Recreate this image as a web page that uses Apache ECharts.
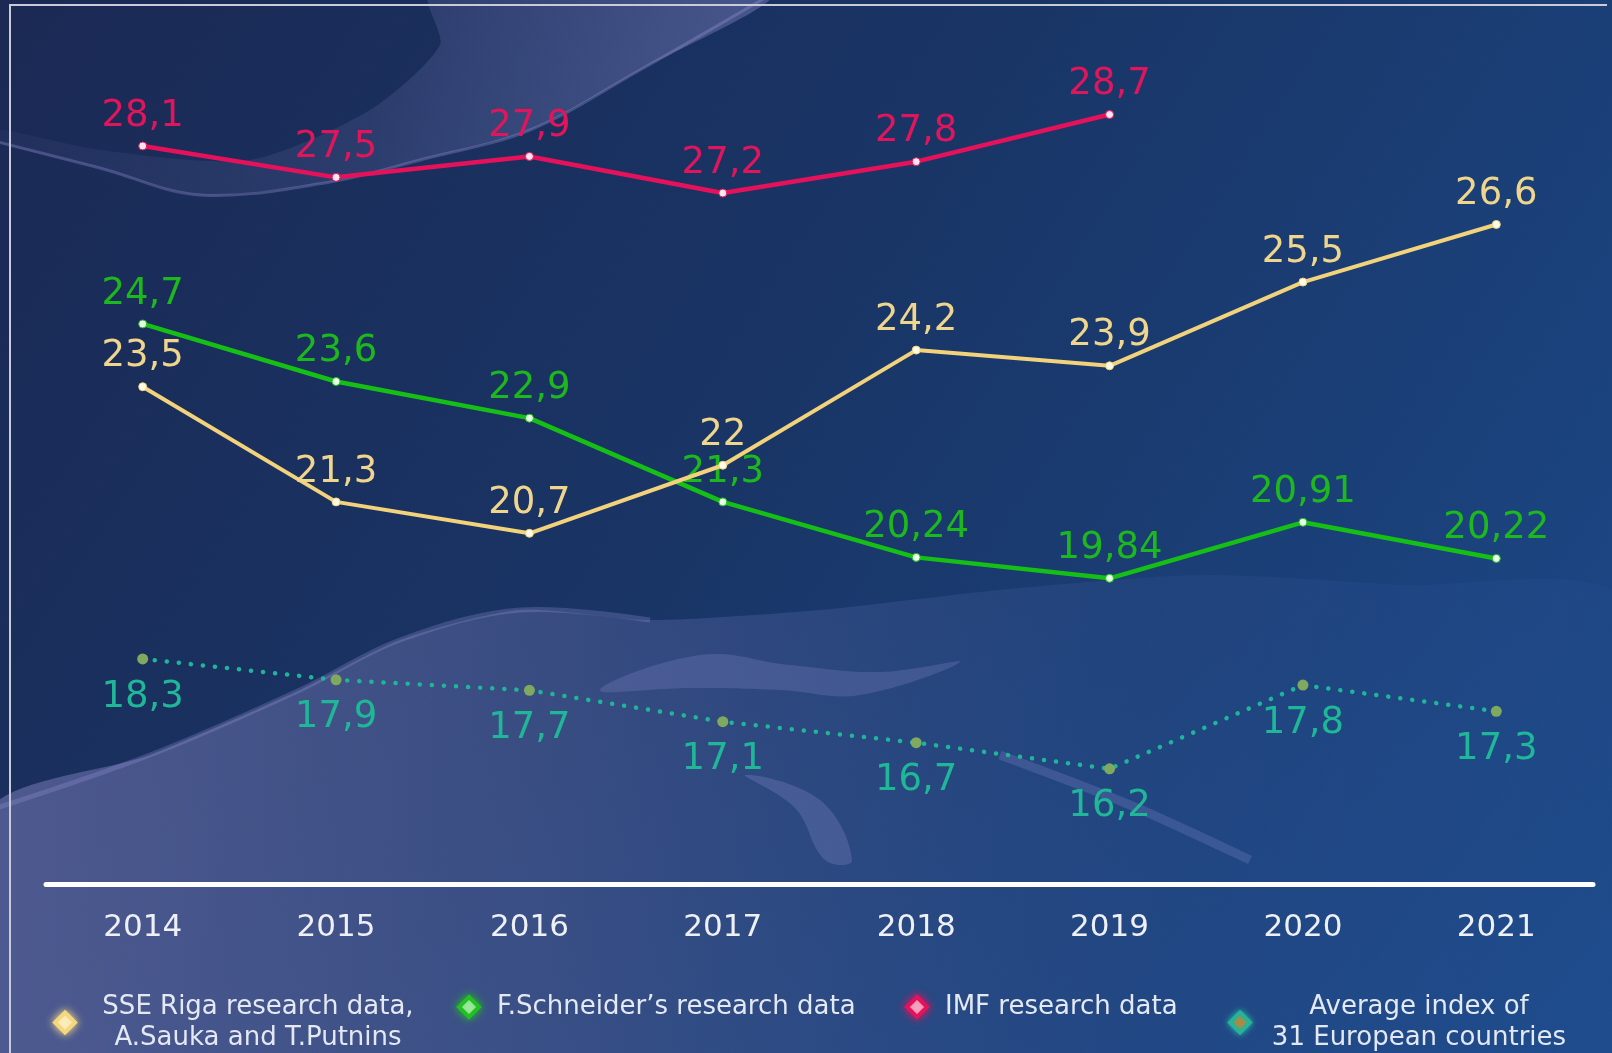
<!DOCTYPE html>
<html><head><meta charset="utf-8">
<script src="https://cdn.jsdelivr.net/npm/echarts@6/dist/echarts.min.js"></script>
<style>html,body{margin:0;padding:0;background:#1b3262;overflow:hidden}#c{width:1612px;height:1053px}</style>
</head><body><div id="c"></div><script>
const categories = ['2014', '2015', '2016', '2017', '2018', '2019', '2020', '2021'];
const sseValues = [23.5, 21.3, 20.7, 22, 24.2, 23.9, 25.5, 26.6];
const schneiderValues = [24.7, 23.6, 22.9, 21.3, 20.24, 19.84, 20.91, 20.22];
const imfValues = [28.1, 27.5, 27.9, 27.2, 27.8, 28.7, null, null];
const avgValues = [18.3, 17.9, 17.7, 17.1, 16.7, 16.2, 17.8, 17.3];
const seriesNames = [
  'SSE Riga research data,\nA.Sauka and T.Putnins',
  'F.Schneider\u2019s research data',
  'IMF research data',
  'Average index of\n31 European countries'
];

const FONT = "'DejaVu Sans', Verdana, sans-serif";
const fmt = p => String(p.value).replace('.', ',');

function legendFor(name, left, boxW, iconStyle) {
  const multi = name.indexOf('\n') >= 0;
  return {
    data: [{ name: name, icon: 'diamond', itemStyle: iconStyle }],
    left: left, top: 994, padding: 0,
    itemWidth: 20, itemHeight: 20,
    selectedMode: false,
    formatter: n => n.split('\n').map(l => '{c|' + l + '}').join('\n'),
    textStyle: {
      rich: {
        c: multi ? { width: boxW, align: 'center', fontSize: 26, lineHeight: 31, color: '#e4e8f2', fontFamily: FONT }
                 : { padding: [0, 0, 0, 13], fontSize: 26, lineHeight: 31, color: '#e4e8f2', fontFamily: FONT }
      }
    }
  };
}

const ribbon = [[-10, 140], [100, 168], [200, 195], [330, 182], [420, 160], [530, 130], [640, 70], [770, -5]];
const lav = a => 'rgba(165,160,228,' + a + ')';
const bgShapes = [
  { type: 'polygon', z: -10, shape: { smooth: 0.25, points: ribbon.concat([[430, -5], [440, 45], [370, 110], [250, 160], [100, 150], [-10, 128]]) },
    style: { fill: { type: 'linear', x: 0, y: 0, x2: 1, y2: 0.6, colorStops: [
      { offset: 0, color: lav(0.04) }, { offset: 0.5, color: lav(0.12) }, { offset: 0.85, color: lav(0.28) }, { offset: 1, color: lav(0.33) }] } } },
  { type: 'polyline', z: -10, shape: { smooth: 0.35, points: ribbon },
    style: { fill: null, stroke: lav(0.3), lineWidth: 3 } },
  { type: 'polygon', z: -10, shape: { smooth: 0.25, points: [[-10, 810], [150, 755], [300, 690], [400, 640], [520, 610], [650, 620], [820, 610], [1000, 590], [1200, 575], [1400, 585], [1620, 600], [1620, 1060], [-10, 1060]] },
    style: { fill: { type: 'linear', x: 0, y: 0, x2: 1, y2: 0, colorStops: [
      { offset: 0, color: lav(0.38) }, { offset: 0.35, color: lav(0.22) }, { offset: 0.7, color: 'rgba(90,120,200,0.1)' }, { offset: 1, color: 'rgba(70,110,190,0.06)' }] } } },
  { type: 'polyline', z: -10, shape: { smooth: 0.35, points: [[-10, 810], [150, 755], [300, 690], [400, 640], [520, 610], [650, 620]] },
    style: { fill: null, stroke: lav(0.25), lineWidth: 5 } },
  { type: 'polygon', z: -10, shape: { smooth: 0.4, points: [[600, 690], [700, 655], [790, 665], [880, 672], [960, 662], [860, 695], [780, 690], [690, 688]] },
    style: { fill: lav(0.2) } },
  { type: 'polygon', z: -10, shape: { smooth: 0.4, points: [[745, 775], [820, 800], [852, 860], [825, 860], [795, 808]] },
    style: { fill: lav(0.22) } },
  { type: 'polyline', z: -10, shape: { smooth: 0.3, points: [[1000, 755], [1130, 805], [1250, 860]] },
    style: { fill: null, stroke: lav(0.2), lineWidth: 9 } },
  { type: 'polyline', z: 5, shape: { points: [[10, 1060], [10, 5], [1607, 5]] },
    style: { fill: null, stroke: '#c9cbd8', lineWidth: 2 } }
];

const chart = echarts.init(document.getElementById('c'), null, { renderer: 'canvas' });
chart.setOption({
  animation: false,
  backgroundColor: '#1a3262',
  graphic: [{ type: 'rect', z: -20, shape: { x: 0, y: 0, width: 1612, height: 1053 },
    style: { fill: { type: 'linear', x: 0, y: 0, x2: 1, y2: 1, colorStops: [
      { offset: 0, color: '#1b2954' }, { offset: 0.45, color: '#193566' }, { offset: 1, color: '#1c4a8a' }] } } }].concat(bgShapes),
  grid: { left: 46, right: 19, top: 46.5, bottom: 169, containLabel: false },
  xAxis: {
    type: 'category', data: categories, boundaryGap: true, z: 4,
    axisLine: { lineStyle: { color: '#ffffff', width: 5 } },
    axisTick: { show: false },
    axisLabel: { color: '#eef0f6', fontSize: 31, fontFamily: FONT, margin: 28 }
  },
  yAxis: { type: 'value', min: 14, max: 30, show: false, splitLine: { show: false } },
  legend: [
    legendFor(seriesNames[0], 53, 356, { color: '#fff8dc', borderColor: '#f4d880', borderWidth: 4, shadowBlur: 8, shadowColor: '#f4d880' }),
    legendFor(seriesNames[1], 457, 0, { color: '#eaffea', borderColor: '#22c022', borderWidth: 4, shadowBlur: 8, shadowColor: '#22c022' }),
    legendFor(seriesNames[2], 905, 0, { color: '#ffffff', borderColor: '#e5125b', borderWidth: 4, shadowBlur: 8, shadowColor: '#e5125b' }),
    legendFor(seriesNames[3], 1228, 328, { color: '#e07a22', borderColor: '#26b39a', borderWidth: 4, shadowBlur: 6, shadowColor: '#26b39a' })
  ],
  series: [
    { name: seriesNames[3], type: 'line', data: avgValues, z: 3,
      lineStyle: { color: '#1fb59a', width: 4.5, type: [0.1, 12], cap: 'round' },
      symbol: 'circle', symbolSize: 11,
      itemStyle: { color: '#7ea95e', borderWidth: 0 },
      label: { show: true, position: 'bottom', distance: 14, formatter: fmt, color: '#1fb797', fontSize: 37, fontFamily: FONT } },
    { name: seriesNames[2], type: 'line', data: imfValues, z: 4,
      lineStyle: { color: '#e5125b', width: 4.5 },
      symbol: 'circle', symbolSize: 8,
      itemStyle: { color: '#ffe6ef', borderColor: '#e5125b', borderWidth: 1 },
      label: { show: true, position: 'top', distance: 7, formatter: fmt, color: '#e0155c', fontSize: 37, fontFamily: FONT } },
    { name: seriesNames[1], type: 'line', data: schneiderValues, z: 5,
      lineStyle: { color: '#16bf16', width: 4.5 },
      symbol: 'circle', symbolSize: 8,
      itemStyle: { color: '#eaffea', borderColor: '#16bf16', borderWidth: 1 },
      label: { show: true, position: 'top', distance: 7, formatter: fmt, color: '#1db81d', fontSize: 37, fontFamily: FONT } },
    { name: seriesNames[0], type: 'line', data: sseValues, z: 6,
      lineStyle: { color: '#f2d27a', width: 4 },
      symbol: 'circle', symbolSize: 8,
      itemStyle: { color: '#fffbe6', borderColor: '#f2d27a', borderWidth: 1 },
      label: { show: true, position: 'top', distance: 7, formatter: fmt, color: '#f0d68c', fontSize: 37, fontFamily: FONT } }
  ]
});
</script></body></html>
